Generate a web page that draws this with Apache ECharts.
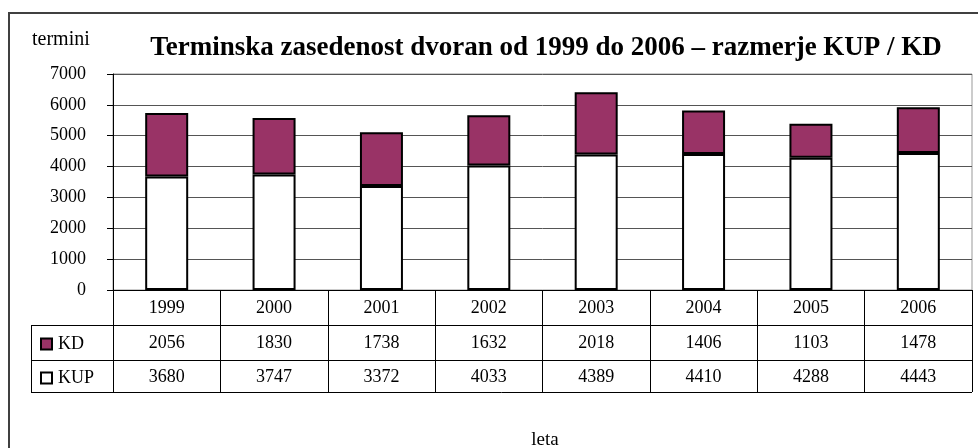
<!DOCTYPE html>
<html>
<head>
<meta charset="utf-8">
<script src="https://cdn.jsdelivr.net/npm/echarts@6/dist/echarts.min.js"></script>
<style>html,body{margin:0;padding:0;background:#fff}#c{width:978px;height:448px}</style>
</head>
<body>
<div id="c"></div>
<script>
const years = ['1999','2000','2001','2002','2003','2004','2005','2006'];
const kd  = [2056, 1830, 1738, 1632, 2018, 1406, 1103, 1478];
const kup = [3680, 3747, 3372, 4033, 4389, 4410, 4288, 4443];
const yTicks = {min: 0, max: 7000, interval: 1000};

const FF = '"Liberation Serif", "Times New Roman", serif';
const chart = echarts.init(document.getElementById('c'), null, {renderer: 'canvas'});

const tableAxis = (data, offset, tickLen, margin) => ({
  type: 'category', gridIndex: 0, position: 'bottom', offset: offset, data: data,
  axisLine: {show: true, lineStyle: {color: '#000', width: 1}},
  axisTick: {show: true, length: tickLen, lineStyle: {color: '#000', width: 1}},
  axisLabel: {margin: margin, color: '#000', fontFamily: FF, fontSize: 18, interval: 0},
  splitLine: {show: false}
});

chart.setOption({
  animation: false,
  backgroundColor: '#fff',
  title: [
    {text: 'Terminska zasedenost dvoran od 1999 do 2006 – razmerje KUP / KD', left: 541, top: 28, textAlign: 'center',
     textStyle: {fontFamily: FF, fontSize: 27, fontWeight: 'bold', color: '#000', lineHeight: 30}},
    {text: 'termini', left: 27, top: 23, textStyle: {fontFamily: FF, fontSize: 20, fontWeight: 'normal', color: '#000', lineHeight: 24}},
    {text: 'leta', left: 540, top: 424, textAlign: 'center', textStyle: {fontFamily: FF, fontSize: 19, fontWeight: 'normal', color: '#000', lineHeight: 22}}
  ],
  legend: [
    {data: ['KD'], left: 35, top: 330, icon: 'rect', itemWidth: 11, itemHeight: 11, itemGap: 0, selectedMode: false,
     textStyle: {fontFamily: FF, fontSize: 18, color: '#000', padding: [0,0,0,1]}},
    {data: ['KUP'], left: 35, top: 364, icon: 'rect', itemWidth: 11, itemHeight: 11, itemGap: 0, selectedMode: false,
     textStyle: {fontFamily: FF, fontSize: 18, color: '#000', padding: [0,0,0,1]}}
  ],
  grid: {left: 113, right: 6, top: 74, bottom: 158, show: true, borderColor: '#999', borderWidth: 1, containLabel: false},
  xAxis: [
    tableAxis(years, 0, 35, 9),
    tableAxis(kd.map(String), 35, 35, 9),
    tableAxis(kup.map(String), 70, 32, 8)
  ],
  yAxis: {
    type: 'value', min: yTicks.min, max: yTicks.max, interval: yTicks.interval,
    axisLine: {show: true, lineStyle: {color: '#000', width: 1}},
    axisTick: {show: true, length: 6, lineStyle: {color: '#000'}},
    axisLabel: {margin: 27, color: '#000', fontFamily: FF, fontSize: 18, formatter: v => String(v)},
    splitLine: {show: true, lineStyle: {color: '#555', width: 1}}
  },
  series: [
    {name: 'KUP', type: 'bar', stack: 'a', data: kup, barWidth: 43, xAxisIndex: 0,
     itemStyle: {color: '#ffffff', borderColor: '#000', borderWidth: 2}},
    {name: 'KD', type: 'bar', stack: 'a', data: kd, barWidth: 43, xAxisIndex: 0,
     itemStyle: {color: '#993366', borderColor: '#000', borderWidth: 2}}
  ],
  graphic: [
    {type: 'rect', shape: {x: 9, y: 13, width: 1200, height: 800}, style: {fill: 'none', stroke: '#404040', lineWidth: 2}, silent: true},
    {type: 'line', shape: {x1: 31, y1: 325.5, x2: 113, y2: 325.5}, style: {stroke: '#000', lineWidth: 1}},
    {type: 'line', shape: {x1: 31, y1: 360.5, x2: 113, y2: 360.5}, style: {stroke: '#000', lineWidth: 1}},
    {type: 'line', shape: {x1: 31, y1: 392.5, x2: 972, y2: 392.5}, style: {stroke: '#000', lineWidth: 1}},
    {type: 'line', shape: {x1: 31.5, y1: 325, x2: 31.5, y2: 393}, style: {stroke: '#000', lineWidth: 1}}
  ]
});
</script>
</body>
</html>
